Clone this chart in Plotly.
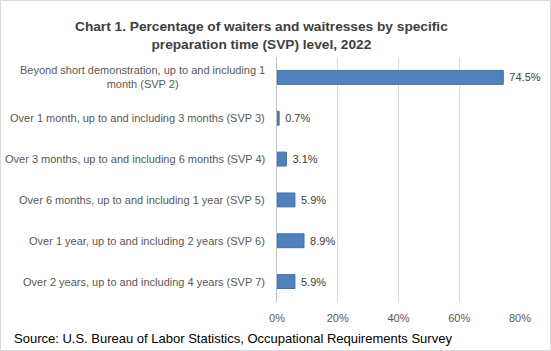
import plotly.graph_objects as go

categories = [
    "Beyond short demonstration, up to and including 1<br>month (SVP 2)",
    "Over 1 month, up to and including 3 months (SVP 3)",
    "Over 3 months, up to and including 6 months (SVP 4)",
    "Over 6 months, up to and including 1 year (SVP 5)",
    "Over 1 year, up to and including 2 years (SVP 6)",
    "Over 2 years, up to and including 4 years (SVP 7)",
]
values = [74.5, 0.7, 3.1, 5.9, 8.9, 5.9]
tick_vals = [0, 20, 40, 60, 80]
tick_text = ["0%", "20%", "40%", "60%", "80%"]

W, H = 551, 351
L, R, T, B = 277, 31, 57, 49
pw, ph = W - L - R, H - T - B

FONT = "Liberation Sans"
GRAY = "#595959"

fig = go.Figure()
fig.add_trace(go.Bar(
    y=categories, x=values, orientation="h",
    width=0.34,
    marker=dict(color="#4F81BD", line=dict(color="#3C6FB4", width=1)),
    text=[f"\u00a0{v:.1f}%" for v in values],
    textposition="outside",
    textfont=dict(family=FONT, size=11, color="#404040"),
    cliponaxis=False,
))

# category labels as annotations (centered multi-line)
for c in categories:
    fig.add_annotation(
        x=0, xref="paper", xshift=-10, y=c, yref="y",
        text=c, showarrow=False, xanchor="right", align="center",
        font=dict(family=FONT, size=11, color=GRAY),
    )

fig.add_annotation(
    x=(261 - L) / pw, xref="paper", y=1, yref="paper", yshift=3,
    text="<b>Chart 1. Percentage of waiters and waitresses by specific<br>preparation time (SVP) level, 2022</b>",
    showarrow=False, xanchor="center", yanchor="bottom", align="center",
    font=dict(family=FONT, size=13.7, color="#404040"),
)
fig.add_annotation(
    x=-(L - 12) / pw, xref="paper", y=-(338 - 302) / ph, yref="paper",
    text="Source: U.S. Bureau of Labor Statistics, Occupational Requirements Survey",
    showarrow=False, xanchor="left", yanchor="middle",
    font=dict(family=FONT, size=13, color="#000000"),
)

# outer border
fig.add_shape(
    type="rect", xref="paper", yref="paper",
    x0=-(L - 0.5) / pw, x1=(W - L - 0.5) / pw,
    y0=-(B - 0.5) / ph, y1=(H - B - 0.5) / ph,
    line=dict(color="#D9D9D9", width=1), fillcolor="rgba(0,0,0,0)",
)

fig.update_layout(
    width=W, height=H,
    margin=dict(l=L, r=R, t=T, b=B),
    paper_bgcolor="white", plot_bgcolor="white",
    showlegend=False,
    xaxis=dict(
        range=[0, 80], tickvals=tick_vals, ticktext=tick_text,
        showgrid=True, gridcolor="#D9D9D9", gridwidth=1,
        zeroline=False, showline=False,
        tickfont=dict(family=FONT, size=11, color=GRAY),
        ticks="", ticklabelstandoff=8, fixedrange=True,
    ),
    yaxis=dict(
        categoryorder="array", categoryarray=categories[::-1],
        showticklabels=False, showgrid=False,
        showline=True, linecolor="#BFBFBF", linewidth=1,
        ticks="", fixedrange=True,
    ),
)

fig.write_html("out.html")
